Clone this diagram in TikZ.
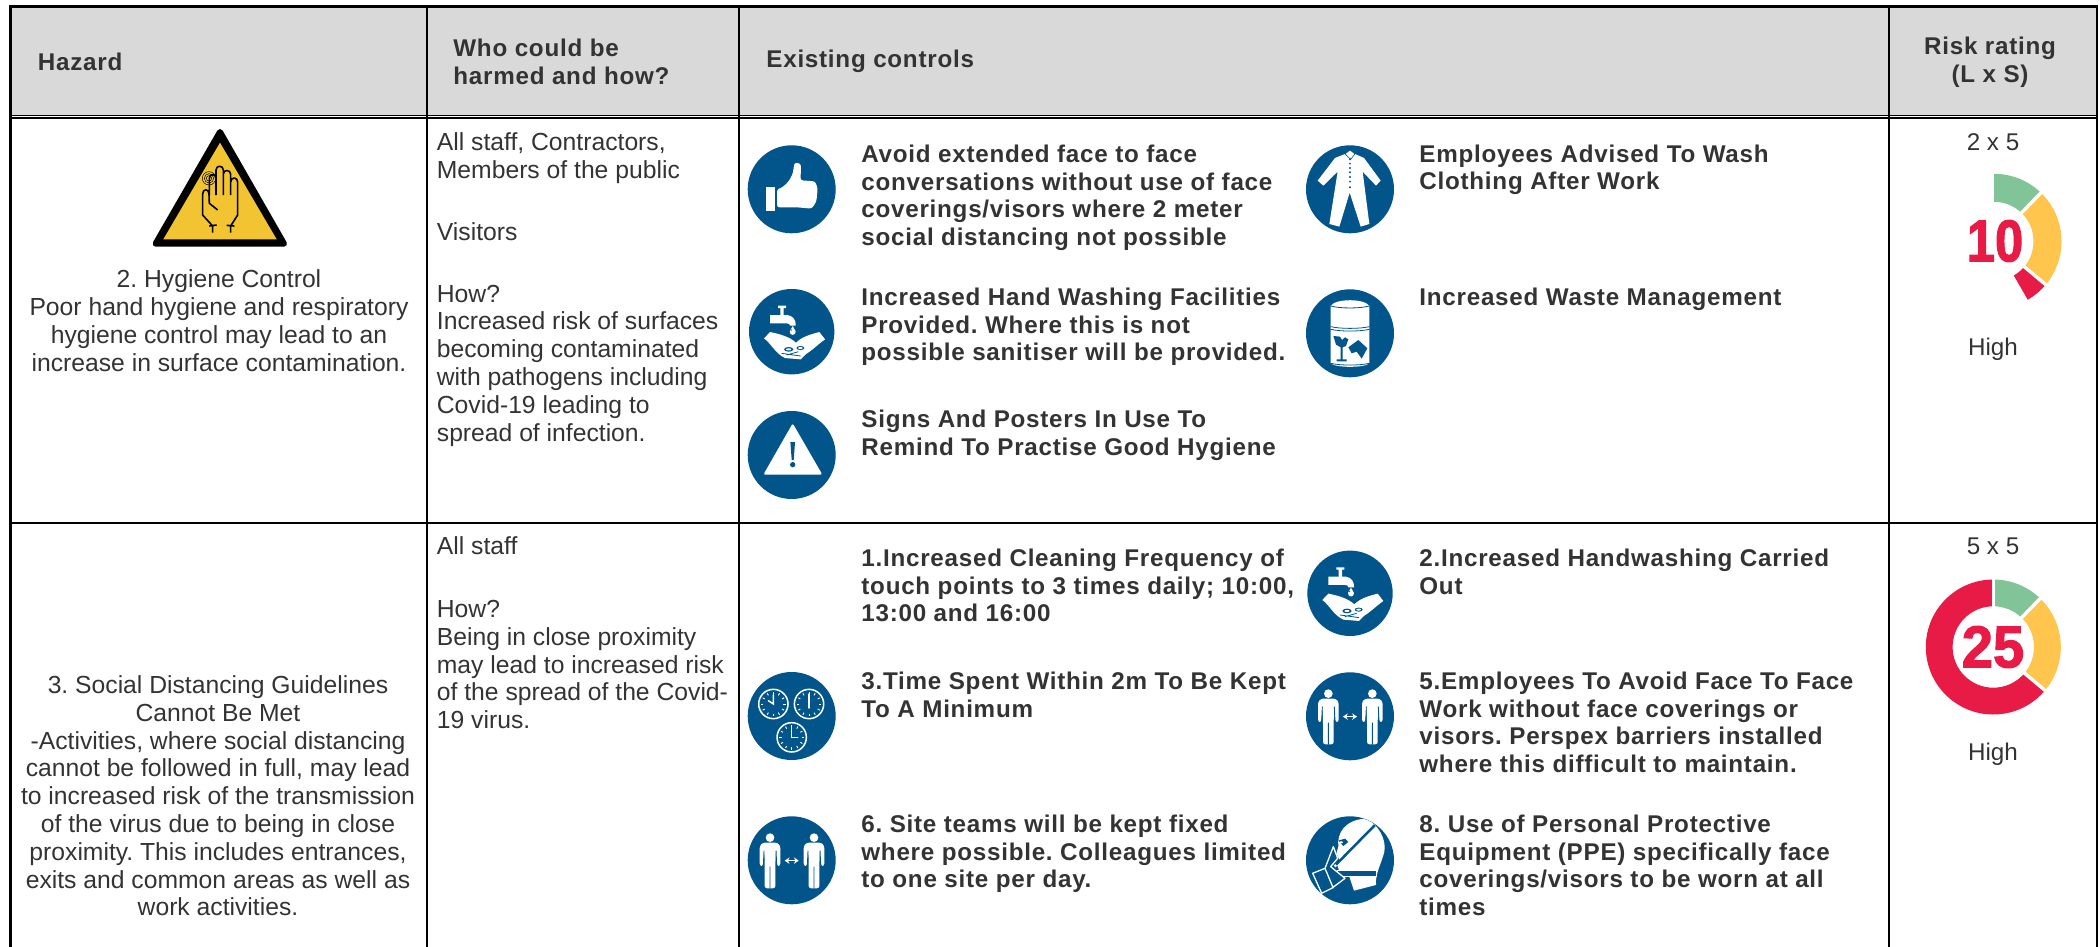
\documentclass[tikz,border=0pt]{standalone}
\usepackage{fontspec}
\usetikzlibrary{arrows.meta}
\setmainfont{Liberation Sans}
\newfontfamily\boldf[LetterSpace=3.1]{Liberation Sans}
\newfontfamily\gaugef[BoldFeatures={FakeBold=2}]{Liberation Sans}
\AtBeginDocument{\frenchspacing}
\definecolor{sign}{HTML}{01558A}
\definecolor{ink}{HTML}{333333}
\definecolor{headbg}{HTML}{D9D9D9}
\definecolor{gred}{HTML}{E81B46}
\definecolor{gyellow}{HTML}{FFC54D}
\definecolor{ggreen}{HTML}{80C497}
\definecolor{warn}{HTML}{F2C431}
\tikzset{
 grid/.style={line width=1.25pt,black},
 head/.style={inner sep=0pt,text=ink,font=\boldf\bfseries\fontsize{12.1}{13.9}\selectfont},
 body/.style={inner sep=0pt,anchor=north west,align=left,text=ink,font=\fontsize{12.35}{13.9}\selectfont},
 bodyc/.style={inner sep=0pt,anchor=north,align=center,text=ink,font=\fontsize{12.35}{13.9}\selectfont},
 ctrl/.style={inner sep=0pt,anchor=north west,align=left,text=ink,font=\boldf\bfseries\fontsize{12.1}{13.8}\selectfont},
 label/.style={inner sep=0pt,text=ink,font=\fontsize{12.1}{13.9}\selectfont},
 disc/.style={circle,fill=sign,inner sep=0pt,minimum size=#1*1pt},
}
\newcommand{\st}{\rule{0pt}{9pt}}
% icon frame: coordinates are those of the 3x crops
\newenvironment{icon}[4]{\begin{scope}[shift={(#1,#2)},x=0.16667pt,y=-0.16667pt,shift={(-#3,-#4)}]}{\end{scope}}
\newcommand{\seg}[5]{\fill[#1] (#2:67.5) arc (#2:#3:67.5) -- (#3:#5) arc (#3:#2:#5) -- cycle;}
\newcommand{\gapline}[2]{\draw[white,line width=1.7pt] (#1:#2-3) -- (#1:70);}
\newcommand{\hands}{%
 \fill[white] (102,655) -- (120,636) .. controls (150,642) and (178,650) .. (198,668) .. controls (215,650) and (245,642) .. (268,636) -- (285,658) .. controls (265,672) and (245,692) .. (228,702) -- (212,718) -- (165,714) .. controls (135,700) and (125,672) .. (102,655) -- cycle;
 \fill[sign] (176,688) ellipse (14 and 7) (211,684) ellipse (12 and 6);
 \fill[white] (176,688) ellipse (8 and 3) (211,684) ellipse (7 and 3);
 \draw[sign,line width=.4pt] (155,700) -- (212,708) (170,705) -- (205,695);
 \fill[white] (120,585) -- (172,585) .. controls (190,588) and (198,600) .. (197,617) -- (180,617) .. controls (180,612) and (176,610) .. (170,610) -- (120,610) -- cycle;
 \fill[white] (151,565) rectangle (161,586) (144,557) rectangle (168,564);
 \fill[white] (188,618) -- (197,634) .. controls (198,648) and (178,648) .. (179,634) -- cycle;
 \fill[sign] (184,630) circle (2);
}
\newcommand{\person}[1]{%
 \begin{scope}[shift={(#1,0)}]
 \fill[white] (0,563) circle (13);
 \fill[white,rounded corners=1.2pt] (-22,578) -- (22,578) -- (31,588) -- (31,648) -- (21,648) -- (17,602) -- (16,650) -- (16,715) -- (-16,715) -- (-16,650) -- (-17,602) -- (-21,648) -- (-31,648) -- (-31,588) -- cycle;
 \draw[sign,line width=.45pt] (0,650) -- (0,716) (-18,602) -- (-20,648) (18,602) -- (20,648);
 \end{scope}
}
\newcommand{\clock}[3]{%
 \begin{scope}[shift={(#1,#2)}]
 \draw[white,line width=.75pt] (0,0) circle (44);
 \foreach \a in {0,30,...,330} \draw[white,line width=.45pt] (\a:30) -- (\a:37);
 \draw[white,line width=.7pt,line cap=round] #3;
 \end{scope}
}
\begin{document}
\begin{tikzpicture}[x=0.5pt,y=-0.5pt]
\useasboundingbox (0,0) rectangle (2100,947);
% table
\fill[headbg] (10.7,6.7) rectangle (2097,115);
\draw[grid] (10.7,947) -- (10.7,6.7) -- (2097,6.7) -- (2097,947);
\draw[grid] (427,6.7) -- (427,947) (739,6.7) -- (739,947) (1889,6.7) -- (1889,947);
\draw[line width=.7pt] (10.7,115.3) -- (2097,115.3);
\draw[line width=1pt] (10.7,118.2) -- (2097,118.2);
\draw[line width=1.1pt] (10.7,522.7) -- (2097,522.7);
% headers
\node[head,anchor=west] (hHaz) at (37.5,61.5) {Hazard};
\node[head,anchor=west,align=left] (hWho) at (453,62) {Who could be\\harmed and how?};
\node[head,anchor=west] (hCtl) at (766,61.5) {Existing controls};
\node[head,align=center] (hRisk) at (1990,62.5) {Risk rating\\(L x S)};
% row 1 text
\node[bodyc] (h2) at (219,269.5) {\st 2. Hygiene Control\\Poor hand hygiene and respiratory\\hygiene control may lead to an\\increase in surface contamination.};
\node[body] (w2a) at (436.5,132) {\st All staff, Contractors,\\Members of the public};
\node[body] (w2b) at (436.5,222) {\st Visitors};
\node[body] (w2c) at (436.5,283.7) {\st How?\\Increased risk of surfaces\\becoming contaminated\\with pathogens including\\Covid-19 leading to\\spread of infection.};
\node[ctrl] (c21) at (861,144) {\st Avoid extended face to face\\conversations without use of face\\coverings/visors where 2 meter\\social distancing not possible};
\node[ctrl] (c22) at (861,287) {\st Increased Hand Washing Facilities\\Provided. Where this is not\\possible sanitiser will be provided.};
\node[ctrl] (c23) at (861,409) {\st Signs And Posters In Use To\\Remind To Practise Good Hygiene};
\node[ctrl] (c24) at (1419,144) {\st Employees Advised To Wash\\Clothing After Work};
\node[ctrl] (c25) at (1419,287) {\st Increased Waste Management};
% row 2 text
\node[bodyc] (h3) at (218,675) {\st 3. Social Distancing Guidelines\\Cannot Be Met\\-Activities, where social distancing\\cannot be followed in full, may lead\\to increased risk of the transmission\\of the virus due to being in close\\proximity. This includes entrances,\\exits and common areas as well as\\work activities.};
\node[body] (w3a) at (436.5,536) {\st All staff};
\node[body] (w3b) at (436.5,599) {\st How?\\Being in close proximity\\may lead to increased risk\\of the spread of the Covid-\\19 virus.};
\node[ctrl] (c31) at (861,548) {\st 1.Increased Cleaning Frequency of\\touch points to 3 times daily; 10:00,\\13:00 and 16:00};
\node[ctrl] (c33) at (861,671) {\st 3.Time Spent Within 2m To Be Kept\\To A Minimum};
\node[ctrl] (c36) at (861,814) {\st 6. Site teams will be kept fixed\\where possible. Colleagues limited\\to one site per day.};
\node[ctrl] (c32) at (1419,548) {\st 2.Increased Handwashing Carried\\Out};
\node[ctrl] (c35) at (1419,671) {\st 5.Employees To Avoid Face To Face\\Work without face coverings or\\visors. Perspex barriers installed\\where this difficult to maintain.};
\node[ctrl] (c38) at (1419,814) {\st 8. Use of Personal Protective\\Equipment (PPE) specifically face\\coverings/visors to be worn at all\\times};
% rating labels
\node[label] (r2) at (1993,141.7) {2 x 5};
\node[label] (q2) at (1993,349) {High};
\node[label] (r3) at (1993,546.7) {5 x 5};
\node[label] (q3) at (1993,754) {High};
% gauges
\begin{scope}[shift={(1994,241.3)},y=0.5pt]
 \seg{ggreen}{90}{46}{0}{39.5}
 \seg{gyellow}{46}{-40}{0}{39.5}
 \seg{gred}{-40}{-60}{0}{39.5}
 \gapline{46}{39.5}\gapline{-40}{39.5}
\end{scope}
\node[inner sep=0pt,text=gred,font=\gaugef\bfseries\fontsize{29.5}{29.5}\selectfont,xscale=.86] (n10) at (1995,241) {10};
\begin{scope}[shift={(1993.3,647)},y=0.5pt]
 \seg{gred}{-40}{-270}{0}{40.7}
 \seg{ggreen}{90}{46}{0}{40.7}
 \seg{gyellow}{46}{-40}{0}{40.7}
 \gapline{90}{40.7}\gapline{46}{40.7}\gapline{-40}{40.7}
\end{scope}
\node[inner sep=0pt,text=gred,font=\gaugef\bfseries\fontsize{29.5}{29.5}\selectfont,xscale=.95] (n25) at (1993,647) {25};
% hand warning sign
\filldraw[black,line width=3pt,line join=round] (220,132) -- (284,243.7) -- (155.6,243.7) -- cycle;
\fill[warn] (220,142.7) -- (276.7,239.3) -- (163.3,239.3) -- cycle;
\begin{icon}{140}{120}{0}{0}
 \draw[black,line width=.8pt,line join=round]
  (218,338) -- (218,318) -- (188,285) -- (188,222) .. controls (188,205) and (207,205) .. (207,222) -- (208,250) -- (233,270)
  (208,318) -- (230,315)
  (208,225) -- (208,175) .. controls (208,160) and (228,160) .. (228,175)
  (228,225) -- (228,150) .. controls (228,135) and (250,135) .. (250,150) -- (250,225)
  (250,162) .. controls (250,148) and (272,148) .. (272,163) -- (272,225)
  (272,186) .. controls (272,170) and (293,170) .. (293,186) -- (293,285) -- (272,318) -- (272,338)
  (260,316) -- (283,318);
 \draw[black,line width=.25pt] (207,175) circle (20) (207,175) circle (14) (207,175) circle (8);
\end{icon}
% row 1 icons
\node[disc=44] (iThumb) at (791.7,189.3) {};
\begin{icon}{791.7}{189.3}{185}{208}
 \fill[white] (109,200) rectangle (136,272);
 \fill[white,rounded corners=1.2pt] (141,208) .. controls (165,200) and (188,175) .. (191,140) .. controls (195,126) and (212,128) .. (213,145) -- (211,181) -- (255,184) -- (263,205) -- (259,245) -- (245,266) -- (200,262) -- (141,262) -- cycle;
\end{icon}
\node[disc=42.7] (iWash) at (791.7,331.7) {};
\begin{icon}{791.7}{331.7}{185}{635}\hands\end{icon}
\node[disc=44] (iWarn) at (791.7,455) {};
\begin{icon}{791.7}{455}{185}{1005}
 \fill[white,rounded corners=1pt] (188,910) -- (277,1064) -- (100,1064) -- cycle;
 \fill[sign] (181,966) -- (195,966) -- (191,1020) -- (185,1020) -- cycle;
 \fill[sign] (188,1034) circle (8);
\end{icon}
\node[disc=44] (iSuit) at (1350,189.3) {};
\begin{icon}{1350}{189.3}{180}{178}
 \fill[white] (165,72) -- (135,84) -- (83,152) -- (100,167) -- (143,125) -- (118,282) -- (148,290) -- (179,188) -- (212,290) -- (238,282) -- (218,125) -- (258,167) -- (272,152) -- (222,84) -- (195,72) -- cycle;
 \fill[white] (180,60) -- (195,72) -- (182,88) -- (165,72) -- cycle;
 \foreach \yy in {88,101,114,127,141,155,172} \fill[sign] (180,\yy) circle (3.2);
 \draw[sign,line width=.3pt] (165,72) -- (180,60) -- (195,72) -- (182,88) -- cycle;
\end{icon}
\node[disc=44] (iBin) at (1350,333.3) {};
\begin{icon}{1350}{333.3}{180}{610}
 \fill[white] (122,528) .. controls (135,505) and (225,505) .. (238,528) -- (238,700) .. controls (225,714) and (135,714) .. (122,700) -- cycle;
 \draw[sign,line width=.4pt] (122,590) .. controls (150,597) and (210,597) .. (238,590) (122,598) .. controls (150,605) and (210,605) .. (238,598) (122,528) .. controls (150,536) and (210,536) .. (238,528) (122,700) .. controls (150,707) and (210,707) .. (238,700);
 \fill[sign] (130,618) -- (150,620) -- (156,630) -- (165,622) -- (175,628) -- (168,648) -- (158,652) -- (158,688) -- (170,688) -- (170,694) -- (140,694) -- (140,688) -- (152,688) -- (152,652) -- (138,644) -- cycle;
 \fill[sign] (175,652) -- (205,630) -- (232,655) -- (215,686) -- (200,665) -- (185,670) -- cycle;
\end{icon}
% row 2 icons
\node[disc=42.7] (iWash2) at (1350,593.3) {};
\begin{icon}{1350}{593.3}{185}{635}\hands\end{icon}
\node[disc=44] (iClock) at (791.7,716) {};
\begin{icon}{791.7}{716}{185}{198}
 \clock{130}{162}{(-15,-10) -- (0,0) -- (0,-28)}
 \clock{237}{162}{(0,12) -- (0,-30)}
 \clock{185}{262}{(18,0) -- (0,0) -- (0,-30)}
\end{icon}
\node[disc=44] (iDist) at (791.7,860.3) {};
\begin{icon}{791.7}{860.3}{185}{631}
 \person{120}\person{252}
 \draw[white,line width=.8pt,{Stealth[length=2.4pt,width=3.2pt]}-{Stealth[length=2.4pt,width=3.2pt]}] (164,632) -- (206,632);
\end{icon}
\node[disc=44] (iDist2) at (1350,716.3) {};
\begin{icon}{1350}{716.3}{185}{631}
 \person{120}\person{252}
 \draw[white,line width=.8pt,{Stealth[length=2.4pt,width=3.2pt]}-{Stealth[length=2.4pt,width=3.2pt]}] (164,632) -- (206,632);
\end{icon}
\node[disc=44] (iMask) at (1350,860.3) {};
\begin{icon}{1350}{860.3}{180}{991}
 \begin{scope}
 \clip (180,991) circle (131);
 \fill[white] (145,950) .. controls (140,910) and (165,870) .. (225,866) .. controls (265,880) and (290,930) .. (283,965) .. controls (275,1000) and (255,1030) .. (258,1065) -- (192,1082) -- (178,1040) -- (150,1030) -- (135,985) -- cycle;
 \end{scope}
 \fill[sign] (145,932) -- (165,926) -- (175,936) -- (160,948) -- cycle;
 \fill[white] (153,937) ellipse (6 and 3);
 \draw[white,line width=2pt] (132,1008) -- (254,886);
 \draw[sign,line width=1.25pt] (138,1004) -- (254,886);
 \fill[white] (140,1020) rectangle (262,1042);
 \fill[sign] (144,1024) rectangle (258,1037);
 \fill[sign] (130,950) -- (148,990) -- (125,1012) -- (165,1045) -- (125,1078) -- (95,1090) -- (68,1030) -- (105,1015) -- cycle;
 \draw[white,line width=.65pt,line join=round] (130,950) -- (143,985) -- (122,1010) -- (165,1045) -- (125,1075) -- (95,1090) -- (68,1030) -- (105,1015) -- cycle (105,1015) -- (130,1075);
\end{icon}
\end{tikzpicture}
\end{document}
